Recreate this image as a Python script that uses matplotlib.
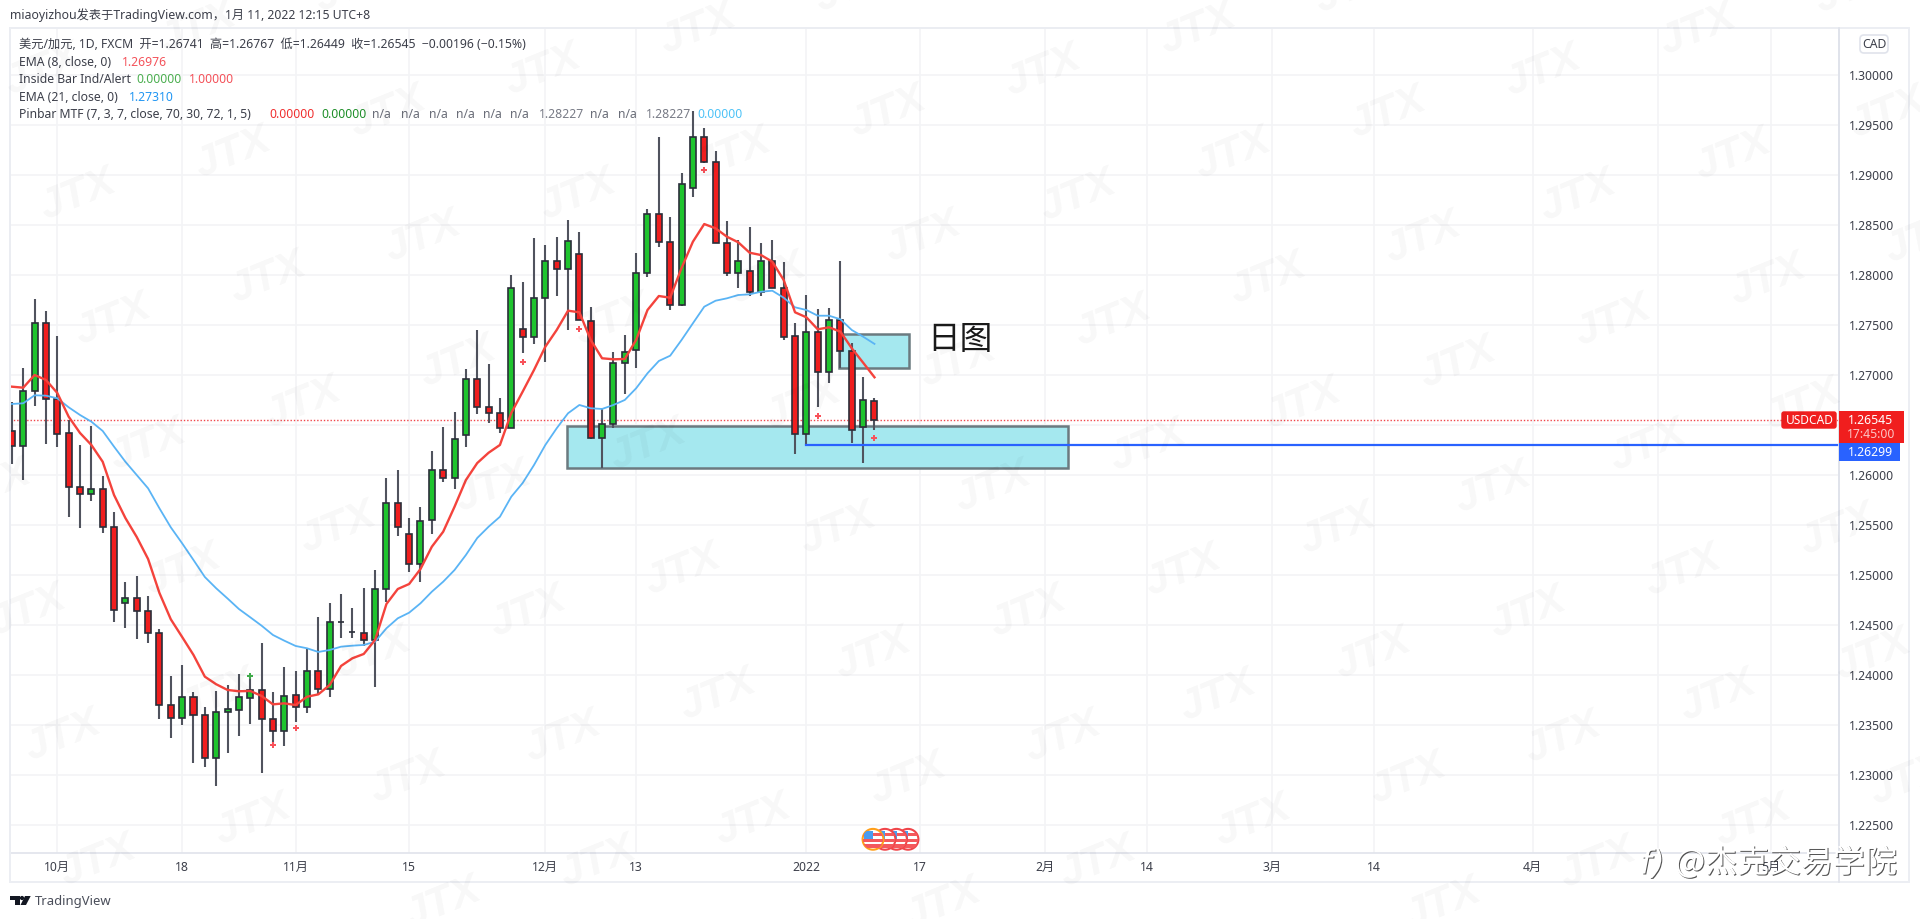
import matplotlib
matplotlib.use('Agg')
import matplotlib.pyplot as plt
import matplotlib.patheffects as pe
from matplotlib.patches import Rectangle, Circle, FancyBboxPatch, Polygon

plt.rcParams['font.family'] = ['Noto Sans', 'Noto Sans CJK SC', 'DejaVu Sans']

# daily USDCAD bars
opens = [1.26442, 1.26289, 1.26842, 1.27522, 1.26759, 1.26422, 1.25878, 1.25805, 1.25855, 1.25481, 1.24715,
         1.24768, 1.24641, 1.24421, 1.23700, 1.23564, 1.23774, 1.23594, 1.23167, 1.23624, 1.23647, 1.23770,
         1.23844, 1.23554, 1.23437, 1.23794, 1.23677, 1.24035, 1.23858, 1.24528, 1.24431, 1.24421, 1.24348,
         1.24861, 1.25721, 1.25405, 1.25105, 1.25545, 1.26045, 1.25971, 1.26399, 1.26956, 1.26682, 1.26619,
         1.26466, 1.27456, 1.27376, 1.27772, 1.28139, 1.28056, 1.28212, 1.27542, 1.26369, 1.26506, 1.27122,
         1.27249, 1.28016, 1.28609, 1.28326, 1.27699, 1.28873, 1.29383, 1.29133, 1.28316, 1.28022, 1.28042,
         1.27832, 1.28139, 1.27866, 1.27386, 1.26412, 1.27426, 1.27029, 1.27552, 1.27239, 1.26476, 1.26741]
highs = [1.26726, 1.27072, 1.27756, 1.27639, 1.27389, 1.26549, 1.26299, 1.26489, 1.25991, 1.25628, 1.24925,
         1.24991, 1.24791, 1.24455, 1.23985, 1.24101, 1.23827, 1.23680, 1.23838, 1.23898, 1.24008, 1.23975,
         1.24321, 1.23827, 1.24078, 1.24038, 1.24261, 1.24581, 1.24718, 1.24805, 1.24665, 1.24865, 1.25045,
         1.25965, 1.26045, 1.25565, 1.25681, 1.26235, 1.26479, 1.26626, 1.27056, 1.27449, 1.27106, 1.26772,
         1.27996, 1.27932, 1.28372, 1.28299, 1.28382, 1.28549, 1.28432, 1.27682, 1.26666, 1.27232, 1.27399,
         1.28216, 1.28656, 1.29377, 1.28582, 1.29023, 1.29640, 1.29473, 1.29243, 1.28539, 1.28349, 1.28476,
         1.28319, 1.28349, 1.28129, 1.27516, 1.27799, 1.27659, 1.27672, 1.28142, 1.27316, 1.26979, 1.26767]
lows = [1.26105, 1.25948, 1.26689, 1.26305, 1.26282, 1.25581, 1.25465, 1.25738, 1.25415, 1.24525, 1.24471,
        1.24355, 1.24315, 1.23560, 1.23370, 1.23494, 1.23120, 1.23077, 1.22887, 1.23214, 1.23390, 1.23507,
        1.23014, 1.23310, 1.23287, 1.23527, 1.23620, 1.23804, 1.23780, 1.24365, 1.24365, 1.24288, 1.23875,
        1.24731, 1.25391, 1.25025, 1.24931, 1.25411, 1.25931, 1.25855, 1.26282, 1.26606, 1.26522, 1.26416,
        1.26466, 1.27216, 1.27309, 1.27132, 1.27789, 1.27449, 1.27546, 1.26356, 1.26071, 1.26466, 1.26806,
        1.27066, 1.27976, 1.28282, 1.27646, 1.27689, 1.28783, 1.29123, 1.28316, 1.27989, 1.27866, 1.27789,
        1.27789, 1.27866, 1.27349, 1.26208, 1.26299, 1.26682, 1.26922, 1.27069, 1.26322, 1.26115, 1.26449]
closes = [1.26289, 1.26839, 1.27522, 1.26759, 1.26412, 1.25878, 1.25805, 1.25855, 1.25481, 1.24651, 1.24768,
          1.24641, 1.24421, 1.23700, 1.23564, 1.23774, 1.23594, 1.23167, 1.23624, 1.23657, 1.23774, 1.23844,
          1.23554, 1.23437, 1.23785, 1.23677, 1.24035, 1.23858, 1.24528, 1.24530, 1.24425, 1.24348, 1.24861,
          1.25721, 1.25481, 1.25105, 1.25541, 1.26045, 1.25971, 1.26359, 1.26956, 1.26682, 1.26622, 1.26466,
          1.27866, 1.27376, 1.27772, 1.28139, 1.28056, 1.28336, 1.27546, 1.26369, 1.26506, 1.27122, 1.27226,
          1.28016, 1.28612, 1.28326, 1.27702, 1.28913, 1.29383, 1.29130, 1.28316, 1.28022, 1.28139, 1.27832,
          1.28139, 1.27866, 1.27382, 1.26412, 1.27429, 1.27029, 1.27552, 1.27239, 1.26446, 1.26746, 1.26545]

ema8 = [1.26882, 1.26872, 1.26999, 1.26949, 1.26819, 1.26582, 1.26419, 1.26299, 1.26131, 1.25798, 1.25568,
        1.25378, 1.25158, 1.24818, 1.24555, 1.24378, 1.24198, 1.23981, 1.23905, 1.23848, 1.23835, 1.23838,
        1.23788, 1.23704, 1.23714, 1.23697, 1.23780, 1.23804, 1.23898, 1.24088, 1.24165, 1.24208, 1.24348,
        1.24708, 1.24858, 1.24908, 1.25058, 1.25281, 1.25431, 1.25681, 1.25948, 1.26118, 1.26221, 1.26299,
        1.26619, 1.26832, 1.27049, 1.27282, 1.27449, 1.27642, 1.27626, 1.27349, 1.27166, 1.27156, 1.27159,
        1.27349, 1.27649, 1.27789, 1.27772, 1.28069, 1.28332, 1.28509, 1.28466, 1.28382, 1.28326, 1.28222,
        1.28199, 1.28132, 1.27949, 1.27626, 1.27576, 1.27456, 1.27476, 1.27432, 1.27266, 1.27122, 1.26976]
ema21 = [1.26709, 1.26716, 1.26796, 1.26792, 1.26766, 1.26676, 1.26599, 1.26532, 1.26439, 1.26282, 1.26131,
         1.25998, 1.25865, 1.25665, 1.25475, 1.25315, 1.25148, 1.24978, 1.24865, 1.24763, 1.24658, 1.24575,
         1.24491, 1.24398, 1.24341, 1.24288, 1.24265, 1.24228, 1.24248, 1.24281, 1.24291, 1.24298, 1.24331,
         1.24465, 1.24565, 1.24621, 1.24715, 1.24831, 1.24931, 1.25048, 1.25198, 1.25368, 1.25481, 1.25581,
         1.25781, 1.25918, 1.26098, 1.26299, 1.26466, 1.26616, 1.26699, 1.26666, 1.26659, 1.26699, 1.26749,
         1.26866, 1.27016, 1.27139, 1.27192, 1.27349, 1.27516, 1.27682, 1.27742, 1.27766, 1.27799, 1.27806,
         1.27832, 1.27842, 1.27772, 1.27676, 1.27649, 1.27592, 1.27592, 1.27556, 1.27449, 1.27382, 1.27310]

# bar index and price of the inside bar / pinbar crosses
red_cross_x = [23, 25, 45, 50, 61, 71, 76]
red_cross_y = [1.23299, 1.23472, 1.27129, 1.27462, 1.29052, 1.26589, 1.26369]
green_cross_x = [21]
green_cross_y = [1.23985]

last_price = 1.26545
line_price = 1.26299
line_start = 70
zone_low = [48.93, 93.08, 1.26071, 1.26489]
zone_high = [72.9, 79.04, 1.27066, 1.27409]

price_ticks = [1.30, 1.295, 1.29, 1.285, 1.28, 1.275, 1.27, 1.265, 1.26, 1.255, 1.25, 1.245, 1.24, 1.235, 1.23, 1.225]
time_ticks = [4, 15, 25, 35, 47, 55, 70, 80, 91, 100, 111, 120, 134, 145, 155]
time_labels = ['10月', '18', '11月', '15', '12月', '13', '2022', '17', '2月', '14', '3月', '14', '4月', '', '5月']
bold_labels = ['10月', '11月', '12月', '2022', '2月', '3月', '4月', '5月']

RED = '#f01e1e'
GREEN = '#1fc42e'
EDGE = '#2a2e39'
WICK = '#50535e'
TEXT = '#3c3f4a'
FS = 8.8

W, H = 1920, 919
fig = plt.figure(figsize=(W / 100, H / 100), dpi=100, facecolor='white')

# chart pane, x runs in bars and y in price
ax = fig.add_axes([10 / W, 1 - 853 / H, 1829 / W, 825 / H])
ax.set_xlim(-0.167, 160.98)
ax.set_ylim(1.222169, 1.304702)
ax.set_yticks(price_ticks)
# the 1.26500 label sits behind the last price badge
ax.set_yticklabels(['' if p == 1.265 else '%.5f' % p for p in price_ticks], fontsize=FS, color=TEXT)
ax.yaxis.tick_right()
ax.set_xticks(time_ticks)
ax.set_xticklabels(time_labels, fontsize=FS, color=TEXT)
for lab, txt in zip(ax.get_xticklabels(), time_labels):
    if txt in bold_labels:
        lab.set_fontweight('medium')
ax.tick_params(axis='y', length=0, pad=7.5)
ax.tick_params(axis='x', length=0, pad=5.5)
ax.grid(True, color='#f3f4f6', lw=1.2)
ax.set_axisbelow(True)
for s in ax.spines.values():
    s.set_color('#e0e3eb')
    s.set_linewidth(1.2)

ax.add_patch(Rectangle((zone_low[0], zone_low[2]), zone_low[1] - zone_low[0], zone_low[3] - zone_low[2],
                       facecolor='#a5e8ef', edgecolor='#6b7a80', lw=1.8, zorder=2))
ax.add_patch(Rectangle((zone_high[0], zone_high[2]), zone_high[1] - zone_high[0], zone_high[3] - zone_high[2],
                       facecolor='#a5e8ef', edgecolor='#6b7a80', lw=1.8, zorder=2))

ax.axhline(last_price, color='#f0454a', lw=1, ls=(0, (1, 1.4)), zorder=2.5)
ax.plot([line_start, 160.98], [line_price, line_price], color='#2962ff', lw=1.6, zorder=6)

xs = list(range(len(opens)))
colors = [GREEN if c >= o else RED for o, c in zip(opens, closes)]
ax.vlines(xs, lows, highs, color=WICK, lw=1.5, zorder=3)
ax.bar(xs, [c - o for o, c in zip(opens, closes)], bottom=opens, width=0.53, color=colors,
       edgecolor=EDGE, linewidth=1.2, zorder=4)
ax.plot(xs, ema21, color='#5ab4f5', lw=1.3, zorder=5)
ax.plot(xs, ema8, color='#f4433c', lw=1.7, zorder=5)
ax.plot(red_cross_x, red_cross_y, ls='', marker='P', ms=5, mew=0, color='#f8525a', zorder=5)
ax.plot(green_cross_x, green_cross_y, ls='', marker='P', ms=5, mew=0, color='#3fab4a', zorder=5)

# overlay in pixel coordinates for labels, frame and logos
ov = fig.add_axes([0, 0, 1, 1], facecolor='none')
ov.set_xlim(0, W)
ov.set_ylim(H, 0)
ov.axis('off')

ov.add_patch(Rectangle((10, 28), 1899, 854, fill=False, edgecolor='#eceef3', lw=1.4))
ov.plot([1839, 1839], [28, 882], color='#e0e3eb', lw=1.2)

ov.text(10, 15, 'miaoyizhou发表于TradingView.com，1月 11, 2022 12:15 UTC+8', fontsize=FS, color=TEXT, va='center')
ov.text(19, 44.3, '美元/加元, 1D, FXCM  开=1.26741  高=1.26767  低=1.26449  收=1.26545  −0.00196 (−0.15%)',
        fontsize=FS, color=TEXT, va='center')

LEGEND = [
    (19, 62.3, 'EMA (8, close, 0)', TEXT),
    (122.4, 62.3, '1.26976', '#f4525a'),
    (19, 79.3, 'Inside Bar Ind/Alert', TEXT),
    (136.7, 79.3, '0.00000', '#4caf50'),
    (189.3, 79.3, '1.00000', '#f4525a'),
    (19, 97.3, 'EMA (21, close, 0)', TEXT),
    (128.6, 97.3, '1.27310', '#2196f3'),
    (19, 115, 'Pinbar MTF (7, 3, 7, close, 70, 30, 72, 1, 5)', TEXT),
    (269.4, 115, '0.00000', '#f03030'),
    (321.4, 115, '0.00000', '#1f8f2a'),
    (372.4, 115, 'n/a', '#6a6d78'),
    (400.5, 115, 'n/a', '#6a6d78'),
    (428.6, 115, 'n/a', '#6a6d78'),
    (455.6, 115, 'n/a', '#6a6d78'),
    (483.2, 115, 'n/a', '#6a6d78'),
    (510.2, 115, 'n/a', '#6a6d78'),
    (539.3, 115, '1.28227', '#787b86'),
    (590.3, 115, 'n/a', '#6a6d78'),
    (618.4, 115, 'n/a', '#6a6d78'),
    (646.4, 115, '1.28227', '#787b86'),
    (697.4, 115, '0.00000', '#4fc3f7'),
]
for x, y, s, c in LEGEND:
    ov.text(x, y, s, fontsize=FS, color=c, va='center')

ov.text(927, 340.5, '日图', fontsize=23.5, color='#1a1a1a', va='center', family=['Noto Sans CJK SC'])

# price scale badges
ov.add_patch(FancyBboxPatch((1782, 412), 54, 16, boxstyle='round,pad=0,rounding_size=2', facecolor=RED, edgecolor=RED, lw=1, zorder=7))
ov.text(1809.5, 420.5, 'USDCAD', fontsize=8.6, color='white', ha='center', va='center', zorder=8)
ov.add_patch(Rectangle((1839, 443), 61, 18, facecolor='#2962ff', edgecolor='none', zorder=7))
ov.text(1871, 452, '%.5f' % line_price, fontsize=FS, color='white', ha='center', va='center', zorder=8)
ov.add_patch(Rectangle((1839, 411), 65, 32, facecolor=RED, edgecolor='none', zorder=7))
ov.text(1871, 420.5, '%.5f' % last_price, fontsize=FS, color='white', ha='center', va='center', zorder=8)
ov.text(1871, 435, '17:45:00', fontsize=FS, color='#fbc4c4', ha='center', va='center', zorder=8)

ov.add_patch(FancyBboxPatch((1860, 35), 28, 18, boxstyle='round,pad=0,rounding_size=4', facecolor='white', edgecolor='#e0e3eb', lw=1.2))
ov.text(1874, 44.5, 'CAD', fontsize=FS, color=TEXT, ha='center', va='center')

# event flag badges on the time scale
for cx, ring in [(908, '#f0454a'), (896.5, '#f0454a'), (885, '#f0454a'), (873, '#ff9f1a')]:
    disc = Circle((cx, 839.3), 10.4, facecolor='white', edgecolor=ring, lw=1.5, zorder=9)
    ov.add_patch(disc)
    for sy in (834.5, 840.5, 846):
        stripe = Rectangle((cx - 10, sy - 1.8), 20, 3.6, facecolor='#f4585c', edgecolor='none', zorder=9)
        ov.add_patch(stripe)
        stripe.set_clip_path(disc)
    canton = Rectangle((cx - 9, 831), 9, 8, facecolor='#4a9cf0', edgecolor='none', zorder=9)
    ov.add_patch(canton)
    canton.set_clip_path(disc)

# TradingView mark
ov.add_patch(Polygon([(10, 896), (19.5, 896), (19.5, 905), (15, 905), (15, 900), (10, 900)], facecolor='#131722', edgecolor='none'))
ov.add_patch(Circle((22, 898), 2.1, facecolor='#131722', edgecolor='none'))
ov.add_patch(Polygon([(25, 896), (30.7, 896), (26, 905), (20.5, 905)], facecolor='#131722', edgecolor='none'))
ov.text(35, 901, 'TradingView', fontsize=9.4, color='#4a4e5a', va='center')

# faint repeated JTX marks over the whole page
base_x, base_y = 113, 320
for k2 in range(-12, 16):
    for l2 in range(-12, 16):
        if (k2 + l2) % 2:
            continue
        px = base_x + k2 * 172.5 + l2 * 17.5
        py = base_y + k2 * 21 + l2 * 62.5
        if -20 < px < W + 20 and -20 < py < H + 20:
            ov.text(px, py, 'JTX', fontsize=31, fontweight='bold', fontstyle='italic', family=['Liberation Sans'],
                    color='black', alpha=0.03, rotation=22, ha='center', va='center', zorder=10)

# publisher stamp
shadow = [pe.withSimplePatchShadow(offset=(0.7, -0.7), shadow_rgbFace='#333333', alpha=0.85)]
ov.text(1675, 863, '@杰克交易学院', fontsize=23, color='white', va='center', zorder=11, path_effects=shadow,
        fontweight='light', family=['Noto Sans CJK SC'])
ov.text(1640, 864, 'f)', fontsize=24, color='white', fontstyle='italic', va='center', zorder=11, path_effects=shadow,
        family=['DejaVu Sans'])

fig.savefig('out.png', dpi=100, facecolor='white')
